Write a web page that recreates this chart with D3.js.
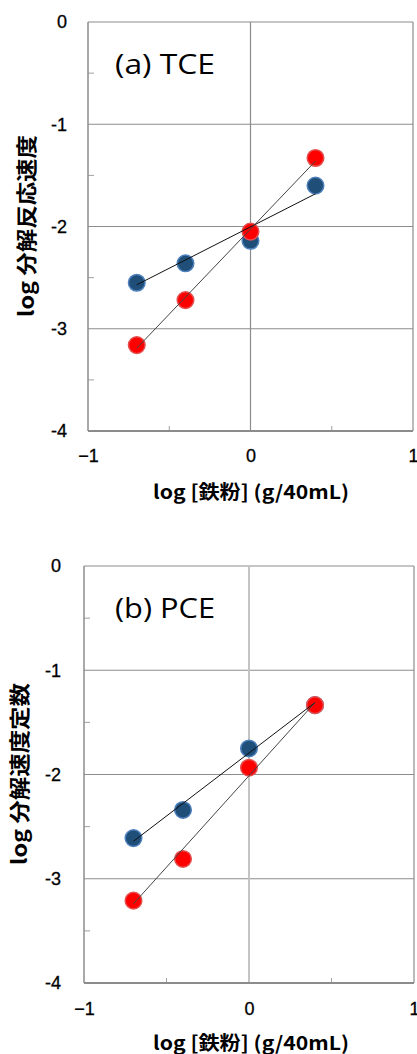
<!DOCTYPE html>
<html>
<head>
<meta charset="utf-8">
<script src="https://cdn.jsdelivr.net/npm/d3@7"></script>
<style>
  body { margin: 0; background: #fff; }
  svg { display: block; }
</style>
</head>
<body>
<div id="chart"></div>
<script>
// ---- data ----
const xValues = [-0.7, -0.4, 0, 0.4];

const tceBlue = [-2.55, -2.36, -2.14, -1.60];
const tceRed  = [-3.16, -2.72, -2.05, -1.33];
const tceBlueFit = [[-0.7, -2.57], [0.4, -1.68]];
const tceRedFit  = [[-0.7, -3.19], [0.4, -1.36]];

const pceBlue = [-2.61, -2.34, -1.75, -1.335];
const pceRed  = [-3.21, -2.81, -1.935, -1.335];
const pceBlueFit = [[-0.7, -2.64], [0.4, -1.31]];
const pceRedFit  = [[-0.7, -3.24], [0.4, -1.31]];

const yTicks = [0, -1, -2, -3, -4];
const yMinorTicks = [-0.5, -1.5, -2.5, -3.5];
const xTicks = [-1, 0, 1];
const xMinorTicks = [-0.5, 0.5];

const W = 417, H = 1054;

const svg = d3.select('#chart').append('svg')
  .attr('width', W)
  .attr('height', H);

function drawPanel(o) {
  const g = svg.append('g');

  const x = d3.scaleLinear().domain([-1, 1]).range([o.left, o.right]);
  const y = d3.scaleLinear().domain([-4, 0]).range([o.bottom, o.top]);

  // horizontal grid lines (incl. top border)
  g.selectAll('.hgrid')
    .data([0, -1, -2, -3])
    .enter().append('line')
    .attr('x1', o.left).attr('x2', o.right)
    .attr('y1', d => y(d)).attr('y2', d => y(d))
    .attr('stroke', '#8c8c8c').attr('stroke-width', 1.2);

  // vertical grid at 0 and right border
  g.append('line')
    .attr('x1', x(0)).attr('x2', x(0))
    .attr('y1', o.top).attr('y2', o.bottom)
    .attr('stroke', o.zeroColor).attr('stroke-width', o.zeroWidth);
  g.append('line')
    .attr('x1', x(1)).attr('x2', x(1))
    .attr('y1', o.top).attr('y2', o.bottom)
    .attr('stroke', '#8c8c8c').attr('stroke-width', 1.2);

  // minor ticks
  g.selectAll('.ymin')
    .data(yMinorTicks)
    .enter().append('line')
    .attr('x1', o.left).attr('x2', o.left + 6)
    .attr('y1', d => y(d)).attr('y2', d => y(d))
    .attr('stroke', '#a0a0a0').attr('stroke-width', 1);
  g.selectAll('.xmin')
    .data(xMinorTicks)
    .enter().append('line')
    .attr('x1', d => x(d)).attr('x2', d => x(d))
    .attr('y1', o.bottom).attr('y2', o.bottom - 5)
    .attr('stroke', '#a0a0a0').attr('stroke-width', 1);

  // axis lines
  g.append('line')
    .attr('x1', o.left).attr('x2', o.left)
    .attr('y1', o.top).attr('y2', o.bottom)
    .attr('stroke', '#8c8c8c').attr('stroke-width', 1.5);
  g.append('line')
    .attr('x1', o.left).attr('x2', o.right)
    .attr('y1', o.bottom).attr('y2', o.bottom)
    .attr('stroke', '#8c8c8c').attr('stroke-width', 2.2);

  // tick labels through d3 axes
  const yAxis = d3.axisLeft(y)
    .tickValues(yTicks)
    .tickSize(0)
    .tickPadding(o.yPad)
    .tickFormat(d => d3.format('d')(d).replace('−', '-'));
  const ya = g.append('g')
    .attr('transform', `translate(${o.left},0)`)
    .call(yAxis);
  ya.select('.domain').remove();
  ya.selectAll('text')
    .style('font-family', '"Liberation Sans", Arial, sans-serif')
    .style('font-size', '18px')
    .attr('fill', '#000')
    .attr('stroke', '#000').attr('stroke-width', 0.3);

  const xAxis = d3.axisBottom(x)
    .tickValues(xTicks)
    .tickSize(0)
    .tickPadding(o.xPad)
    .tickFormat(d => d < 0 ? '\u2212' + Math.abs(d) : String(d));
  const xa = g.append('g')
    .attr('transform', `translate(0,${o.bottom})`)
    .call(xAxis);
  xa.select('.domain').remove();
  xa.selectAll('text')
    .style('font-family', '"Liberation Sans", Arial, sans-serif')
    .style('font-size', '18px')
    .attr('fill', '#000')
    .attr('stroke', '#000').attr('stroke-width', 0.3);

  // markers: blue first, red on top
  const series = [
    { vals: o.blue, fill: '#1f4e79', stroke: '#4f81bd' },
    { vals: o.red, fill: '#ff0000', stroke: '#e45050' }
  ];
  series.forEach(s => {
    g.selectAll(null)
      .data(xValues.map((xv, i) => [xv, s.vals[i]]))
      .enter().append('circle')
      .attr('cx', d => x(d[0]))
      .attr('cy', d => y(d[1]))
      .attr('r', 8.3)
      .attr('fill', s.fill)
      .attr('stroke', s.stroke)
      .attr('stroke-width', 1.5);
  });

  // trend lines on top of markers
  const line = d3.line().x(d => x(d[0])).y(d => y(d[1]));
  g.append('path').attr('d', line(o.blueFit))
    .attr('fill', 'none').attr('stroke', '#111').attr('stroke-width', 1);
  g.append('path').attr('d', line(o.redFit))
    .attr('fill', 'none').attr('stroke', '#444').attr('stroke-width', 1);

  // panel label
  g.append('text')
    .attr('x', 115)
    .attr('y', o.top + o.labelDy)
    .style('font-family', '"Open Sans", sans-serif')
    .style('font-size', '28px')
    .attr('fill', '#000')
    .attr('textLength', 100)
    .attr('lengthAdjust', 'spacingAndGlyphs')
    .text(o.label);

  // axis titles
  g.append('text')
    .attr('x', 251)
    .attr('y', o.bottom + o.xTitleDy)
    .attr('text-anchor', 'middle')
    .style('font-family', '"Noto Sans CJK JP", sans-serif')
    .style('font-size', '19px')
    .style('font-weight', 'bold')
    .attr('textLength', 196)
    .attr('lengthAdjust', 'spacingAndGlyphs')
    .text('log [鉄粉] (g/40mL)');

  g.append('text')
    .attr('transform', `translate(${o.yTitleX},${o.yTitleY}) rotate(-90)`)
    .attr('text-anchor', 'middle')
    .attr('dy', '0.35em')
    .style('font-family', '"Noto Sans CJK JP", sans-serif')
    .style('font-size', '21px')
    .style('font-weight', 'bold')
    .attr('textLength', 182)
    .attr('lengthAdjust', 'spacingAndGlyphs')
    .text(o.yTitle);
}

drawPanel({
  left: 88, right: 413, top: 22, bottom: 431,
  yPad: 21, xPad: 18,
  zeroColor: '#8c8c8c', zeroWidth: 1.2,
  blue: tceBlue, red: tceRed, blueFit: tceBlueFit, redFit: tceRedFit,
  label: '(a) TCE', labelDy: 52,
  xTitleDy: 68,
  yTitle: 'log 分解反応速度', yTitleX: 27, yTitleY: 226
});

drawPanel({
  left: 84, right: 414, top: 566, bottom: 983,
  yPad: 23, xPad: 19,
  zeroColor: '#c4c4c4', zeroWidth: 2,
  blue: pceBlue, red: pceRed, blueFit: pceBlueFit, redFit: pceRedFit,
  label: '(b) PCE', labelDy: 52,
  xTitleDy: 67,
  yTitle: 'log 分解速度定数', yTitleX: 20, yTitleY: 774
});
</script>
</body>
</html>
